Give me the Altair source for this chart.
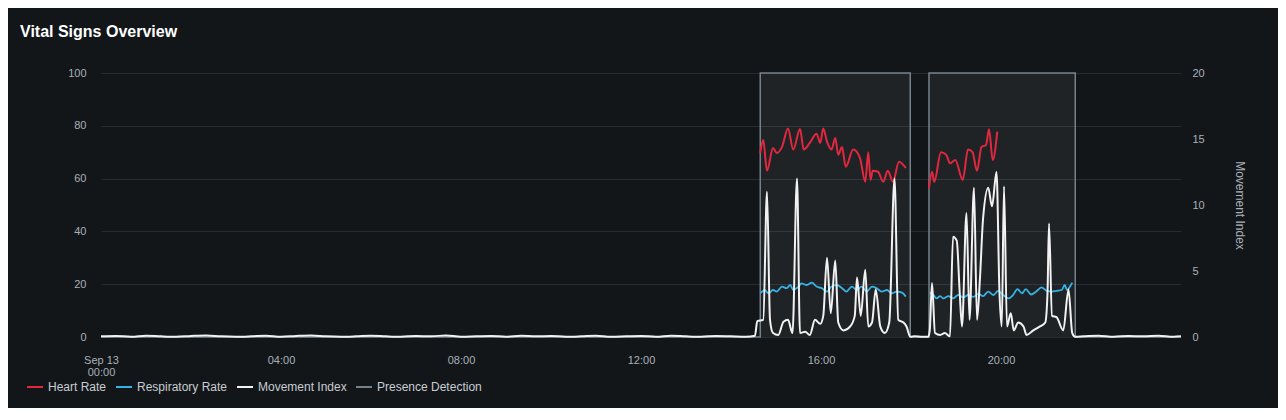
import pandas as pd
import altair as alt

day = pd.Timestamp("2025-09-13")

series = ["Heart Rate", "Respiratory Rate", "Movement Index", "Presence Detection"]
colors = ["#e2283f", "#35b2e6", "#f2f2f2", "#75818b"]

# minutes after midnight
hr1_min = [879, 883, 888, 896, 901, 908, 916, 923, 932, 937, 945, 954, 959, 963, 968, 974,
           979, 983, 988, 993, 1003, 1012, 1019, 1023, 1026, 1029, 1036, 1043, 1049, 1056, 1064, 1073]
hr1_val = [69.7, 74.6, 63, 71.6, 69.7, 72, 79, 71, 78.8, 71, 73.5, 77, 73.5, 79, 74, 71,
           75.4, 69, 72, 64.5, 71, 67.8, 58.8, 70, 59.5, 63, 62.6, 58.8, 63, 58.8, 66.4, 64]
hr2_min = [1104, 1108, 1111, 1120, 1127, 1132, 1139, 1149, 1156, 1162, 1168, 1174, 1180, 1184, 1189, 1195]
hr2_val = [56.4, 62.6, 58.8, 70, 69, 65.8, 67, 59.5, 71, 70, 63, 72, 72.7, 78.7, 67, 77.8]

rr1_min = [879, 885, 890, 896, 901, 908, 914, 919, 923, 930, 934, 941, 948, 954, 961, 968,
           974, 981, 988, 994, 1001, 1008, 1014, 1021, 1028, 1034, 1041, 1048, 1054, 1061, 1068, 1073]
rr1_val = [16.5, 17.8, 16.5, 17.8, 17.2, 19.1, 18.5, 19.7, 17.8, 19.1, 20.3, 19.7, 20.6, 19.1, 18.5, 17.2,
           19.1, 19.7, 18.5, 17.2, 19.1, 17.8, 19.1, 17.2, 19.1, 18.5, 17.2, 17.8, 16.5, 17.2, 16.8, 15.3]
rr2_min = [1105, 1110, 1114, 1119, 1123, 1130, 1136, 1143, 1150, 1156, 1163, 1170, 1176, 1183, 1190, 1196,
           1203, 1210, 1216, 1222, 1228, 1233, 1240, 1247, 1254, 1261, 1268, 1274, 1281, 1285, 1288, 1292, 1295]
rr2_val = [16.8, 15.9, 14.6, 15.5, 14.6, 15.5, 14.6, 15.9, 15.0, 15.9, 15.2, 16.3, 15.5, 17.2, 15.9, 17.5,
           15.9, 14.6, 15.9, 18.1, 16.5, 18.1, 16.1, 17.2, 18.8, 17.5, 17.2, 17.5, 17.8, 19.7, 17.8, 19.1, 20.6]

mv_min = [0, 20, 40, 60, 80, 100, 120, 140, 160, 180, 200, 220, 240, 260, 280, 300, 320, 340, 360, 380,
          400, 420, 440, 460, 480, 500, 520, 540, 560, 580, 600, 620, 640, 660, 680, 700, 720, 740, 760, 780,
          800, 820, 840, 860,
          872, 875, 883, 888, 892, 896, 903, 910, 916, 922, 928, 932, 939, 945, 952, 959, 963, 968, 973, 979,
          983, 990, 999, 1005, 1008, 1013, 1019, 1023, 1028, 1033, 1039, 1045, 1051, 1058, 1063, 1070, 1074,
          1079, 1085, 1095, 1103,
          1105, 1108, 1112, 1119, 1125, 1132, 1136, 1141, 1145, 1148, 1154, 1158, 1164, 1168, 1172, 1176,
          1183, 1188, 1194, 1198, 1201, 1204, 1208, 1213, 1217, 1223, 1230, 1234, 1243, 1252, 1259, 1262,
          1264, 1268, 1274, 1283, 1290, 1295, 1299,
          1310, 1330, 1350, 1370, 1390, 1410, 1430, 1440]
mv_val = [0.05, 0.08, 0.02, 0.1, 0.05, 0.02, 0.08, 0.12, 0.05, 0.02, 0.05, 0.1, 0.02, 0.08, 0.12, 0.05, 0.02, 0.05, 0.1, 0.05,
          0.02, 0.08, 0.05, 0.12, 0.02, 0.05, 0.08, 0.02, 0.1, 0.05, 0.08, 0.02, 0.05, 0.1, 0.02, 0.05, 0.08, 0.02, 0.1, 0.05,
          0.02, 0.08, 0.05, 0.02,
          0.1, 1.2, 1.3, 11.0, 1.3, 0.3, 0.15, 1.16, 1.3, 0.3, 12.0, 0.3, 0.4, 0.15, 1.3, 1.0, 1.6, 6.0, 1.8, 5.8,
          1.1, 0.5, 0.8, 1.6, 4.5, 1.6, 5.1, 0.8, 1.1, 3.6, 0.8, 0.3, 1.1, 12.0, 1.3, 1.1, 0.8,
          0.02, 0.05, 0.02, 0.02,
          0.5, 4.1, 0.3, 0.15, 0.3, 0.05, 7.6, 7.3, 3.3, 0.8, 9.4, 1.3, 11.3, 1.3, 4.5, 8.9,
          11.3, 9.9, 12.5, 3.3, 0.8, 11.4, 0.8, 1.8, 0.5, 1.1, 0.8, 0.15, 0.5, 0.8, 1.1, 3.3,
          8.6, 1.6, 1.5, 0.5, 3.6, 0.3, 0.02,
          0.05, 0.1, 0.02, 0.08, 0.05, 0.1, 0.02, 0.05]

pr_min = [0, 879, 1079, 1104, 1299, 1440]
pr_val = [0, 100, 0, 100, 0, 0]


def stamps(mins):
    return [(day + pd.Timedelta(minutes=m)).strftime("%Y-%m-%dT%H:%M:%S") for m in mins]


heart = pd.DataFrame({"time": stamps(hr1_min + hr2_min), "value": hr1_val + hr2_val,
                      "seg": [1] * len(hr1_min) + [2] * len(hr2_min), "series": "Heart Rate"})
resp = pd.DataFrame({"time": stamps(rr1_min + rr2_min), "value": rr1_val + rr2_val,
                     "seg": [1] * len(rr1_min) + [2] * len(rr2_min), "series": "Respiratory Rate"})
move = pd.DataFrame({"time": stamps(mv_min), "value": mv_val, "series": "Movement Index"})
presence = pd.DataFrame({"time": stamps(pr_min), "value": pr_val, "series": "Presence Detection"})

font = "Liberation Sans"
axis_grey = "#aab1b8"

x = alt.X(
    "time:T", title=None,
    scale=alt.Scale(domain=[alt.DateTime(year=2025, month=9, date=13, hours=0),
                            alt.DateTime(year=2025, month=9, date=14, hours=0)]),
    axis=alt.Axis(
        values=[alt.DateTime(year=2025, month=9, date=13, hours=h) for h in [0, 4, 8, 12, 16, 20]],
        labelExpr="hours(datum.value) == 0 ? [timeFormat(datum.value, '%b %d'), timeFormat(datum.value, '%H:%M')] : timeFormat(datum.value, '%H:%M')",
        domain=False, ticks=False, grid=False, labelPadding=17, labelLineHeight=12, labelFlush=False,
        labelFontSize=11, labelColor=axis_grey, labelFont=font,
    ),
)

y_left = alt.Y(
    "value:Q", title=None, scale=alt.Scale(domain=[0, 100]),
    axis=alt.Axis(values=[0, 20, 40, 60, 80, 100], grid=True, gridColor="#262c31", domain=False,
                  ticks=False, labelPadding=15, labelFontSize=11, labelColor=axis_grey, labelFont=font),
)

y_right = alt.Y(
    "value:Q", title="Movement Index", scale=alt.Scale(domain=[0, 20]),
    axis=alt.Axis(orient="right", values=[0, 5, 10, 15, 20], grid=False, domain=False, ticks=False,
                  labelPadding=11, labelFontSize=11, labelColor=axis_grey, labelFont=font,
                  titleFontSize=12, titleFontWeight="normal", titleColor=axis_grey, titleFont=font,
                  titlePadding=28),
)

color = alt.Color(
    "series:N", title=None, scale=alt.Scale(domain=series, range=colors),
    legend=alt.Legend(orient="none", legendX=-75, legendY=305, direction="horizontal",
                      symbolType="stroke", symbolSize=256, symbolStrokeWidth=2,
                      labelFontSize=12, labelColor="#c8cdd2", labelFont=font,
                      columnPadding=5, labelOffset=4),
)

pres_area = alt.Chart(presence).mark_area(interpolate="step-after", color="#ffffff", opacity=0.06).encode(
    x=x, y=y_left
)
pres_line = alt.Chart(presence).mark_line(interpolate="step-after", strokeWidth=1.5).encode(
    x=x, y=y_left, color=color
)
hr_line = alt.Chart(heart).mark_line(interpolate="monotone", strokeWidth=2).encode(
    x=x, y=y_left, color=color, detail="seg:N"
)
rr_line = alt.Chart(resp).mark_line(interpolate="monotone", strokeWidth=1.8).encode(
    x=x, y=y_left, color=color, detail="seg:N"
)
mv_line = alt.Chart(move).mark_line(interpolate="monotone", strokeWidth=2).encode(
    x=x, y=y_right, color=color
)

left = alt.layer(pres_area, pres_line, hr_line, rr_line)

chart = alt.layer(left, mv_line).resolve_scale(y="independent").properties(
    width=1080, height=264,
    autosize=alt.AutoSizeParams(type="none"),
    padding={"left": 93, "top": 65, "right": 97, "bottom": 71},
    background="#121619",
    title=alt.TitleParams("Vital Signs Overview", anchor="start", frame="group", dx=-81, offset=27,
                          fontSize=16, fontWeight="bold", color="#ffffff", font=font),
).configure_view(strokeWidth=0)

chart.save("out.html", embed_options={"renderer": "svg", "actions": False})
